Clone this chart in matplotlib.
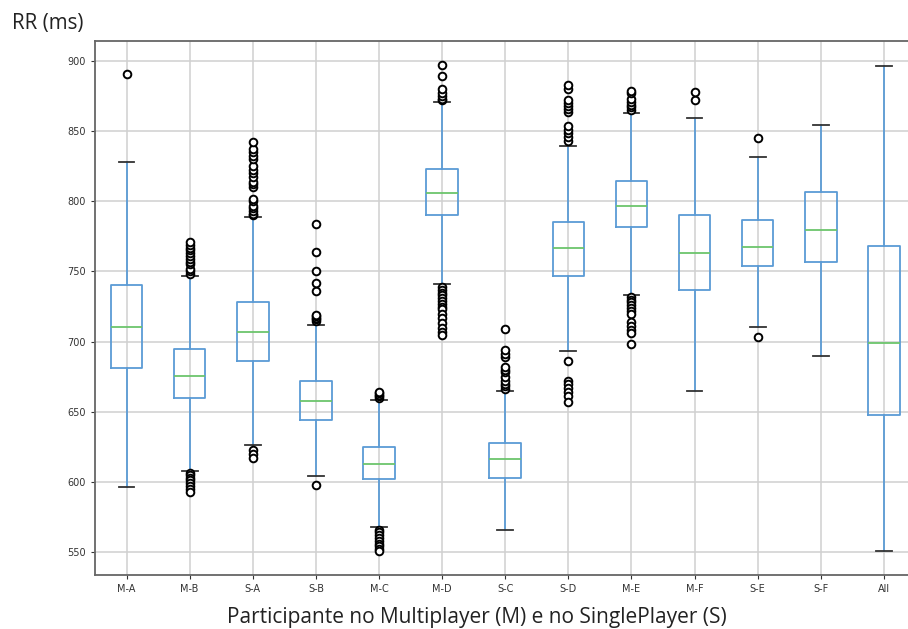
import matplotlib
matplotlib.use("Agg")
import matplotlib.pyplot as plt

# participantes (M = multiplayer, S = singleplayer)
labels = ["M-A", "M-B", "S-A", "S-B", "M-C", "M-D", "S-C",
          "S-D", "M-E", "M-F", "S-E", "S-F", "All"]

# quartis e bigodes (RR em ms)
q1 = [681, 660, 686, 644, 602, 790, 602.5, 747, 782, 737, 754, 757, 648]
med = [710.5, 675.5, 707, 658, 612.5, 806, 616, 766.5, 796.5, 763, 767.5, 779.5, 699]
q3 = [740, 695, 728, 672, 625, 823, 627.5, 785, 814.5, 790, 786.5, 807, 768.5]
whislo = [596, 607.5, 626.5, 604, 567.5, 741, 566, 693.5, 733.5, 665, 710.5, 689.5, 551]
whishi = [828, 747, 789, 712, 658.5, 871, 665, 839.5, 863, 859.5, 831.5, 854.5, 896.5]

# outliers
fliers = [
    [891],
    [748, 750, 752, 755, 757, 759, 761, 763, 765, 767, 769, 771,
     606, 605, 603, 601, 599, 597, 595, 593],
    [790, 791, 793, 795, 797, 800, 802, 810, 812, 814, 817, 820, 822,
     825, 830, 832, 835, 837, 842, 623, 620, 617],
    [715, 716, 717, 718, 719, 736, 742, 750, 764, 784, 598],
    [660, 661, 662, 663, 664, 566, 564, 562, 560, 558, 556, 554, 552, 551],
    [872, 873, 875, 877, 880, 889, 897,
     739, 737, 735, 733, 731, 729, 727, 725, 723, 720, 717, 713, 710, 707, 705],
    [666, 668, 670, 672, 675, 678, 680, 682, 689, 691, 694, 709],
    [843, 846, 849, 851, 854, 864, 866, 868, 870, 872, 880, 883,
     686, 672, 670, 667, 664, 661, 657],
    [865, 867, 869, 871, 873, 877, 879,
     732, 730, 728, 726, 724, 722, 720, 714, 711, 708, 706, 698],
    [872, 878],
    [845, 703],
    [],
    [],
]

stats = []
for i in range(len(labels)):
    stats.append(dict(label=labels[i], q1=q1[i], med=med[i], q3=q3[i],
                      whislo=whislo[i], whishi=whishi[i], fliers=fliers[i]))

fig = plt.figure(figsize=(9.08, 6.29), dpi=100)
ax = fig.add_axes([95 / 908, 54 / 629, (915.5 - 95) / 908, 534 / 629])

azul = "#5b9bd5"
ax.bxp(stats, widths=0.5,
       boxprops=dict(color=azul, linewidth=1.3),
       whiskerprops=dict(color=azul, linewidth=1.3),
       medianprops=dict(color="#6cc56c", linewidth=1.3),
       capprops=dict(color="#333333", linewidth=1.3),
       flierprops=dict(marker="o", markerfacecolor="white", markeredgecolor="black",
                       markersize=5.5, markeredgewidth=1.4))

ax.set_xlim(0.5, 13.5)
ax.set_ylim(533.6, 914.3)
ax.set_yticks([550, 600, 650, 700, 750, 800, 850, 900])
ax.grid(True, color="#d0d0d0", linewidth=1.1)
ax.set_axisbelow(True)
ax.tick_params(labelsize=7, colors="#333333", length=3)
for s in ax.spines.values():
    s.set_color("#666666")
    s.set_linewidth(1.3)

fig.text(12 / 908, 1 - 23 / 629, "RR (ms)", fontsize=14.8, family="Open Sans",
         va="center", ha="left", color="#222222")
fig.text(477 / 908, 1 - 617 / 629,
         "Participante no Multiplayer (M) e no SinglePlayer (S)",
         fontsize=15, family="Open Sans", va="center", ha="center", color="#222222")

fig.savefig("out.png", dpi=100)
